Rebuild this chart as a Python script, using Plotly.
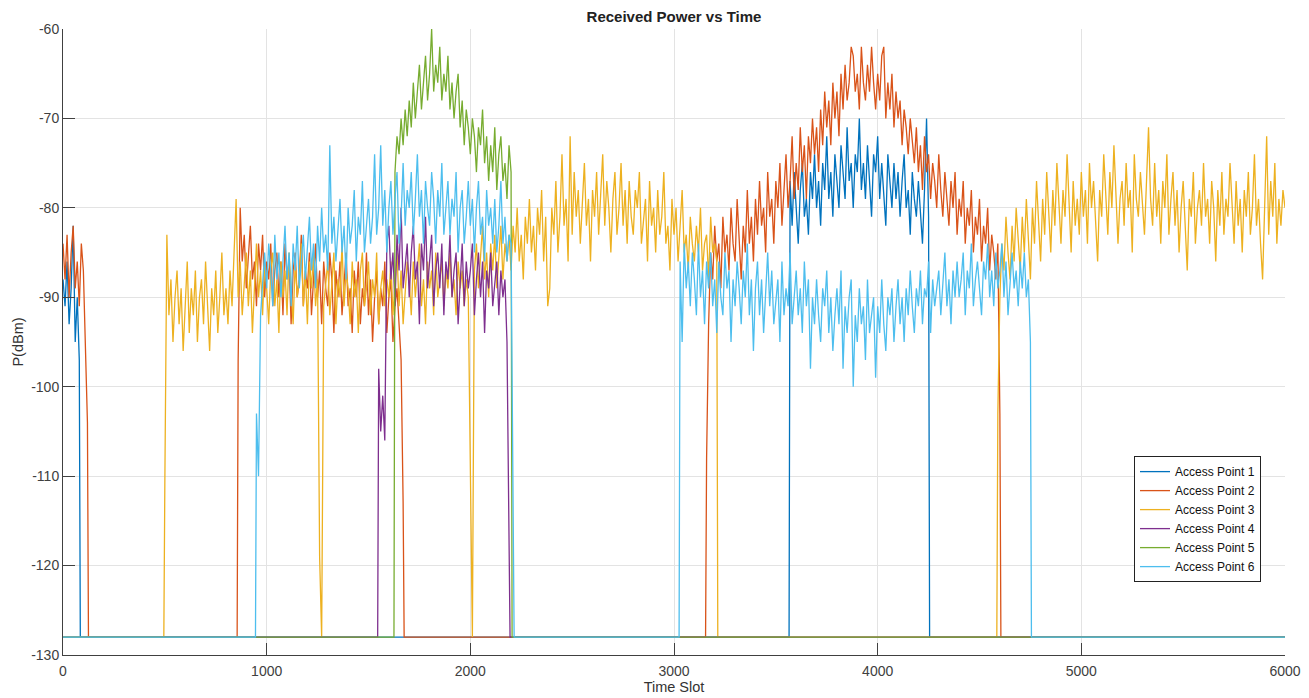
import plotly.graph_objects as go

# ---------------- data ----------------
STEP = 10          # slot spacing of the listed samples
FLOOR = -128       # receiver floor level (dBm)
X_MAX = 6000

names = ["Access Point 1", "Access Point 2", "Access Point 3",
         "Access Point 4", "Access Point 5", "Access Point 6"]
colors = ["#0072BD", "#D95319", "#EDB120", "#7E2F8E", "#77AC30", "#4DBEEE"]

x_ticks = [0, 1000, 2000, 3000, 4000, 5000, 6000]
y_ticks = [-130, -120, -110, -100, -90, -80, -70, -60]

# Access Point 1
ap1_starts = [0, 3570]
ap1_seg1 = [-88, -91, -86, -93, -89, -82, -95, -90, -97]
ap1_seg2 = [-77, -82, -76, -80, -84, -78, -75, -81, -79, -83,
            -76, -79, -74, -80, -77, -82, -75, -78, -72, -79,
            -76, -81, -74, -77, -80, -73, -76, -79, -71, -77,
            -75, -80, -74, -76, -70, -78, -75, -79, -73, -77,
            -81, -74, -76, -72, -79, -75, -78, -82, -74, -77,
            -80, -75, -79, -76, -81, -77, -74, -80, -78, -83,
            -76, -79, -81, -77, -80, -84, -78, -70, -81]

# Access Point 2
ap2_starts = [0, 860, 3160]
ap2_seg1 = [-84, -88, -83, -90, -85, -82, -89, -86, -91, -84, -87, -96, -104]
ap2_seg2 = [-97, -80, -86, -83, -89, -85, -82, -88, -86, -91,
            -84, -87, -83, -90, -86, -88, -84, -91, -87, -85,
            -90, -86, -92, -84, -88, -86, -93, -87, -85, -90,
            -88, -83, -91, -87, -89, -85, -92, -88, -84, -90,
            -87, -93, -86, -89, -91, -85, -88, -94, -87, -90,
            -86, -92, -88, -85, -91, -89, -94, -87, -90, -86,
            -93, -89, -91, -85, -92, -88, -95, -90, -87, -93,
            -89, -91, -86, -94, -90, -88, -95, -91, -89, -93,
            -97, -113]
ap2_seg3 = [-108, -93, -85, -88, -82, -86, -84, -89, -81, -85,
            -83, -87, -80, -84, -86, -79, -83, -88, -82, -85,
            -78, -84, -81, -86, -79, -83, -77, -82, -80, -85,
            -76, -81, -79, -84, -77, -80, -75, -82, -78, -74,
            -80, -77, -72, -79, -75, -78, -71, -76, -73, -79,
            -72, -75, -70, -74, -71, -76, -69, -73, -67, -71,
            -68, -73, -66, -70, -67, -72, -65, -69, -64, -68,
            -66, -62, -63, -67, -65, -69, -62, -66, -68, -64,
            -67, -62, -66, -69, -65, -68, -63, -62, -70, -66,
            -69, -65, -71, -67, -70, -68, -73, -69, -71, -74,
            -70, -73, -75, -71, -76, -73, -78, -72, -76, -74,
            -79, -75, -77, -80, -74, -78, -81, -76, -79, -82,
            -77, -80, -76, -83, -79, -81, -77, -84, -80, -82,
            -78, -85, -81, -83, -79, -86, -82, -84, -80, -87,
            -83, -85, -88, -84, -103]

# Access Point 3
ap3_starts = [500, 4590]
ap3_seg1 = [-111, -83, -92, -88, -95, -90, -87, -93, -89, -96,
            -91, -86, -94, -89, -92, -87, -95, -90, -88, -93,
            -86, -91, -96, -89, -92, -87, -94, -90, -85, -92,
            -89, -93, -87, -91, -84, -79, -90, -86, -92, -88,
            -85, -91, -87, -94, -89, -84, -90, -87, -92, -86,
            -89, -93, -87, -85, -91, -88, -94, -86, -90, -87,
            -92, -85, -89, -93, -86, -90, -88, -84, -91, -87,
            -93, -86, -89, -85, -91, -88, -119, -128, -91, -88,
            -86, -92, -89, -85, -93, -88, -90, -84, -91, -87,
            -89, -93, -86, -90, -88, -94, -87, -85, -91, -89,
            -86, -92, -88, -90, -85, -93, -89, -87, -91, -88,
            -90, -86, -92, -88, -85, -91, -87, -93, -89, -86,
            -88, -92, -86, -90, -87, -84, -91, -88, -93, -86,
            -89, -87, -92, -85, -90, -88, -86, -91, -87, -89,
            -85, -90, -88, -92, -86, -89, -87, -91, -88, -90,
            -112, -128, -87, -84, -89, -86, -82, -88, -85, -90,
            -84, -87, -83, -89, -85, -82, -88, -84, -86, -83,
            -87, -82, -85, -80, -86, -83, -88, -81, -84, -79,
            -85, -82, -87, -80, -83, -78, -86, -81, -91, -89,
            -80, -83, -77, -85, -81, -74, -82, -79, -86, -72,
            -83, -76, -81, -78, -84, -80, -75, -82, -79, -86,
            -78, -81, -76, -83, -79, -74, -82, -77, -80, -85,
            -79, -76, -83, -80, -75, -82, -78, -84, -77, -81,
            -83, -78, -80, -76, -84, -81, -79, -86, -77, -82,
            -80, -85, -78, -83, -81, -76, -84, -82, -87, -79,
            -83, -80, -86, -82, -78, -85, -83, -87, -81, -84,
            -86, -82, -85, -80, -87, -84, -83, -88, -81, -85,
            -84, -86]
ap3_seg2 = [-103,
            -90, -84, -87, -81, -85, -88, -82, -86, -80, -84,
            -87, -81, -85, -79, -83, -88, -80, -84, -77, -82,
            -86, -79, -83, -76, -81, -85, -78, -82, -75, -80,
            -84, -78, -81, -74, -80, -85, -77, -82, -79, -83,
            -76, -81, -78, -84, -75, -80, -77, -82, -86, -78,
            -81, -74, -79, -83, -76, -80, -73, -78, -84, -79,
            -77, -82, -75, -80, -78, -85, -74, -79, -81, -76,
            -80, -83, -77, -71, -79, -82, -75, -81, -78, -84,
            -77, -80, -74, -83, -79, -76, -82, -78, -85, -80,
            -77, -83, -87, -79, -81, -76, -84, -80, -78, -82,
            -75, -81, -79, -84, -77, -80, -86, -78, -82, -76,
            -83, -79, -81, -75, -80, -84, -77, -82, -79, -85,
            -78, -81, -76, -83, -80, -74, -82, -79, -84, -88,
            -80, -72, -83, -77, -81, -75, -84, -79, -82, -78,
            -80]

# Access Point 4
ap4_starts = [1550]
ap4_seg1 = [-98, -105, -101, -106, -84,
            -82, -88, -85, -91, -83, -87, -80, -89, -86, -84,
            -90, -85, -82, -88, -86, -93, -84, -87, -81, -89,
            -86, -83, -91, -87, -85, -89, -84, -92, -86, -88,
            -83, -90, -87, -85, -93, -88, -84, -91, -86, -89,
            -87, -84, -92, -88, -85, -90, -86, -94, -87, -89,
            -85, -91, -88, -86, -92, -87, -90, -88, -95, -115]

# Access Point 5
ap5_starts = [1630]
ap5_seg1 = [-76, -72, -74, -70, -73, -69, -72,
            -68, -71, -66, -70, -67, -64, -69, -66, -63, -68,
            -65, -60, -67, -64, -66, -62, -68, -65, -67, -63,
            -69, -66, -70, -67, -65, -71, -68, -73, -69, -71,
            -74, -70, -72, -76, -71, -73, -69, -75, -72, -77,
            -73, -76, -71, -78, -74, -72, -77, -75, -79, -73,
            -76]

# Access Point 6
ap6_starts = [950, 3030]
ap6_seg1 = [-103, -110, -92, -88, -85,
            -89, -84, -87, -91, -83, -88, -85, -90, -86, -82,
            -88, -85, -91, -84, -87, -82, -89, -86, -83, -88,
            -85, -81, -87, -84, -89, -82, -86, -80, -85, -83,
            -87, -73, -84, -81, -86, -83, -79, -85, -82, -88,
            -80, -84, -82, -78, -86, -81, -83, -77, -85, -82,
            -79, -84, -81, -74, -83, -80, -73, -82, -78, -85,
            -80, -77, -83, -79, -76, -84, -81, -75, -82, -78,
            -80, -76, -83, -79, -74, -81, -78, -84, -77, -80,
            -82, -76, -79, -84, -78, -81, -75, -83, -80, -77,
            -83, -79, -81, -76, -85, -80, -78, -84, -81, -77,
            -82, -79, -85, -80, -77, -83, -81, -86, -78, -82,
            -80, -84, -79, -85, -82, -77, -84, -81, -86, -83,
            -84, -120]
ap6_seg2 = [-86, -95, -84, -89, -86, -91, -85,
            -88, -92, -84, -90, -87, -93, -86, -89, -85, -91,
            -88, -94, -86, -90, -92, -85, -89, -87, -95, -88,
            -91, -86, -89, -93, -87, -90, -84, -92, -88, -96,
            -89, -86, -92, -88, -94, -90, -85, -91, -87, -93,
            -90, -88, -95, -86, -92, -89, -91, -85, -93, -90,
            -87, -92, -89, -94, -86, -91, -88, -98, -90, -93,
            -88, -92, -95, -89, -91, -87, -94, -90, -96, -92,
            -89, -93, -87, -98, -91, -94, -90, -88, -100, -92,
            -95, -89, -93, -91, -97, -88, -94, -92, -90, -99,
            -91, -94, -88, -93, -96, -90, -92, -89, -95, -91,
            -88, -93, -90, -95, -89, -92, -87, -91, -94, -89,
            -91, -87, -93, -89, -90, -86, -94, -88, -91, -89,
            -87, -92, -89, -85, -91, -88, -93, -87, -90, -86,
            -90, -88, -85, -92, -87, -89, -84, -91, -88, -86,
            -89, -92, -86, -88, -84, -90, -87, -91, -85, -89,
            -87, -84, -90, -86, -92, -88, -85, -89, -87, -91,
            -86, -89, -85, -90, -88, -95]

all_starts = [ap1_starts, ap2_starts, ap3_starts, ap4_starts, ap5_starts, ap6_starts]
all_segs = [[ap1_seg1, ap1_seg2],
            [ap2_seg1, ap2_seg2, ap2_seg3],
            [ap3_seg1, ap3_seg2],
            [ap4_seg1],
            [ap5_seg1],
            [ap6_seg1, ap6_seg2]]


def build(starts, segs):
    xs, ys = [], []
    cursor = 0
    for s, vals in zip(starts, segs):
        if s > cursor:
            xs += [cursor, s - STEP / 2]
            ys += [FLOOR, FLOOR]
        xs += [s + STEP * i for i in range(len(vals))]
        ys += list(vals)
        cursor = s + STEP * (len(vals) - 1) + STEP / 2
    if cursor < X_MAX:
        xs += [cursor, X_MAX]
        ys += [FLOOR, FLOOR]
    return xs, ys


fig = go.Figure()
for name, col, st, sg in zip(names, colors, all_starts, all_segs):
    xs, ys = build(st, sg)
    fig.add_trace(go.Scatter(x=xs, y=ys, mode="lines", name=name,
                             line=dict(color=col, width=1.3)))

FONT = "Liberation Sans, Arial, Helvetica, sans-serif"
AX_COL = "#404040"
GRID_COL = "#e3e3e3"

fig.update_layout(
    width=1309, height=698,
    margin=dict(l=63, r=24, t=29, b=43),
    paper_bgcolor="white", plot_bgcolor="white",
    font=dict(family=FONT, size=14, color="#333333"),
    title=dict(text="<b>Received Power vs Time</b>", x=0.5, xref="paper",
               y=1 - 17 / 698, yref="container", yanchor="middle",
               font=dict(family=FONT, size=15, color="#222222")),
    showlegend=True,
    legend=dict(x=(1134 - 63) / 1222, y=(654.7 - 456) / 625.4,
                xanchor="left", yanchor="top",
                bgcolor="white", bordercolor="#222222", borderwidth=1,
                font=dict(family=FONT, size=12, color="#111111"),
                tracegroupgap=0),
)

fig.update_xaxes(range=[0, X_MAX], tickvals=x_ticks,
                 ticktext=[str(v) for v in x_ticks], automargin=False,
                 showgrid=True, gridcolor=GRID_COL, gridwidth=1,
                 zeroline=False, showline=True, linecolor=AX_COL, linewidth=1,
                 ticks="inside", ticklen=12, tickcolor=AX_COL,
                 ticklabelstandoff=3,
                 tickfont=dict(size=14, color="#404040"),
                 title=dict(text="Time Slot", standoff=4,
                            font=dict(size=14.5, color="#333333")))
fig.update_yaxes(range=[-130, -60], tickvals=y_ticks,
                 ticktext=[str(v) for v in y_ticks], automargin=False,
                 showgrid=True, gridcolor=GRID_COL, gridwidth=1,
                 zeroline=False, showline=True, linecolor=AX_COL, linewidth=1,
                 ticks="inside", ticklen=12, tickcolor=AX_COL,
                 tickfont=dict(size=14, color="#404040"),
                 title=dict(text="P(dBm)", standoff=4,
                            font=dict(size=14.5, color="#333333")))

fig.write_html("out.html")
